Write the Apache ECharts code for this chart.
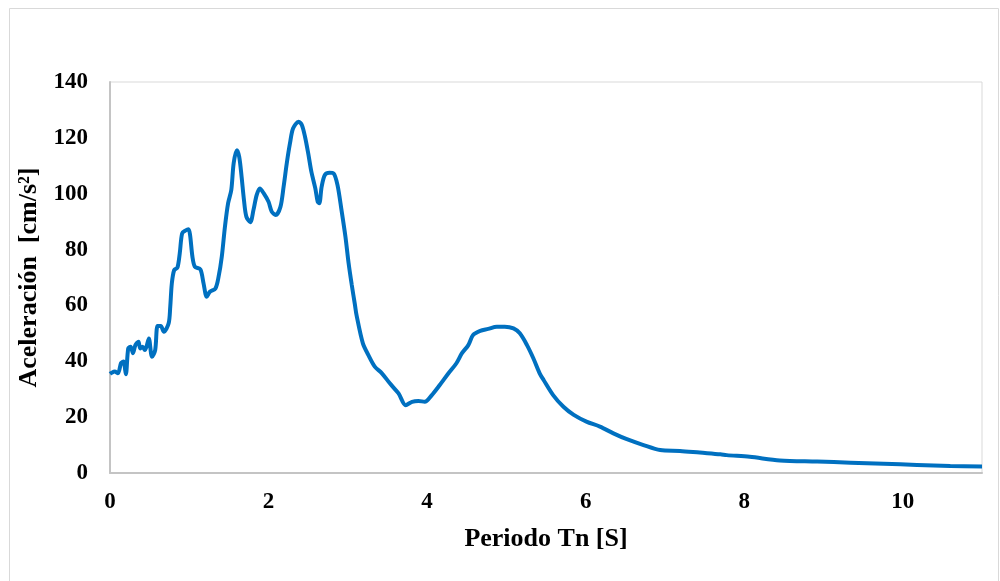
<!DOCTYPE html>
<html>
<head>
<meta charset="utf-8">
<title>Espectro de aceleración</title>
<script src="https://cdn.jsdelivr.net/npm/echarts@6/dist/echarts.min.js"></script>
<style>
  html, body { margin: 0; padding: 0; background: #ffffff; }
  #chart { width: 1000px; height: 581px; }
</style>
</head>
<body>
<div id="chart"></div>
<script>
// Periodo Tn [s]
var periods = [
  0.00, 0.01, 0.06, 0.10, 0.14, 0.17, 0.20, 0.23, 0.26, 0.29, 0.32, 0.36, 0.38, 0.41, 0.44, 0.46,
  0.49, 0.53, 0.57, 0.60, 0.64, 0.68, 0.74, 0.76, 0.78, 0.81, 0.85, 0.88, 0.91, 0.95, 0.99, 1.01,
  1.04, 1.07, 1.14, 1.18, 1.22, 1.26, 1.33, 1.37, 1.41, 1.45, 1.49, 1.53, 1.56, 1.60, 1.63, 1.66,
  1.69, 1.72, 1.77, 1.81, 1.85, 1.89, 1.94, 2.00, 2.04, 2.09, 2.15, 2.19, 2.23, 2.27, 2.31, 2.38,
  2.42, 2.46, 2.50, 2.54, 2.59, 2.62, 2.64, 2.67, 2.71, 2.77, 2.82, 2.87, 2.92, 2.97, 3.01, 3.05,
  3.09, 3.11, 3.19, 3.26, 3.34, 3.43, 3.53, 3.64, 3.73, 3.81, 3.89, 3.97, 4.06, 4.16, 4.27, 4.37,
  4.44, 4.52, 4.58, 4.67, 4.77, 4.88, 4.98, 5.09, 5.17, 5.26, 5.34, 5.42, 5.47, 5.59, 5.72, 5.85,
  6.01, 6.18, 6.35, 6.52, 6.73, 6.94, 7.19, 7.44, 7.70, 7.78, 8.07, 8.45, 8.92, 9.34, 9.76, 10.18,
  10.60, 11.00
];

// Aceleración espectral [cm/s²]
var accel = [
  35.5, 35.7, 36.3, 35.7, 39.4, 39.9, 35.4, 44.6, 45.2, 42.9, 45.8, 47.0, 44.6, 45.2, 44.0, 45.2,
  48.2, 41.6, 44.0, 52.6, 52.6, 50.6, 53.6, 59.5, 67.9, 72.7, 73.5, 78.7, 85.8, 86.8, 87.3, 85.2,
  77.4, 73.9, 72.9, 67.9, 63.1, 64.9, 66.1, 70.3, 77.4, 88.2, 96.6, 101.3, 110.9, 115.6, 113.2, 106.1,
  97.7, 91.8, 89.8, 94.2, 99.5, 101.9, 100.1, 97.1, 93.6, 92.4, 95.3, 102.5, 110.9, 118.0, 123.4, 125.8,
  124.6, 120.4, 114.5, 107.9, 101.9, 97.1, 96.6, 102.5, 106.7, 107.5, 107.3, 103.1, 94.2, 84.6, 75.1, 67.3,
  60.2, 56.5, 46.4, 42.2, 38.1, 35.7, 32.1, 28.5, 24.3, 25.5, 25.8, 25.5, 27.9, 31.5, 35.7, 39.3,
  42.9, 45.8, 49.4, 50.9, 51.6, 52.4, 52.4, 51.8, 50.0, 45.8, 41.1, 35.7, 33.3, 27.9, 23.7, 20.8,
  18.4, 16.6, 14.2, 12.1, 10.0, 8.2, 7.9, 7.3, 6.7, 6.4, 5.8, 4.5, 4.1, 3.7, 3.3, 2.9,
  2.5, 2.3
];

var points = periods.map(function (t, i) { return [t, accel[i]]; });

var chart = echarts.init(document.getElementById('chart'), null, { renderer: 'canvas' });

var serif = '"Liberation Serif", "Times New Roman", serif';

chart.setOption({
  backgroundColor: '#ffffff',
  animation: false,
  graphic: [{
    type: 'rect',
    shape: { x: 9.5, y: 8.5, width: 989, height: 600 },
    style: { fill: 'none', stroke: '#d9d9d9', lineWidth: 1 },
    silent: true,
    z: -10
  }],
  grid: {
    left: 110,
    top: 82,
    right: 18,
    bottom: 108,
    show: true,
    borderColor: '#d9d9d9',
    borderWidth: 1,
    backgroundColor: 'transparent'
  },
  xAxis: {
    type: 'value',
    min: 0,
    max: 11,
    interval: 2,
    name: 'Periodo Tn [S]',
    nameLocation: 'middle',
    nameGap: 53,
    nameTextStyle: { fontFamily: serif, fontWeight: 'bold', fontSize: 26, color: '#000' },
    axisLine: { show: true, lineStyle: { color: '#c4c4c4', width: 2 } },
    axisTick: { show: false },
    splitLine: { show: false },
    axisLabel: {
      showMaxLabel: false,
      margin: 18,
      fontFamily: serif, fontWeight: 'bold', fontSize: 23, color: '#000'
    }
  },
  yAxis: {
    type: 'value',
    min: 0,
    max: 140,
    interval: 20,
    name: 'Aceleración  [cm/s²]',
    nameLocation: 'middle',
    nameGap: 59,
    nameRotate: 90,
    nameTextStyle: { fontFamily: serif, fontWeight: 'bold', fontSize: 26, color: '#000' },
    axisLine: { show: true, lineStyle: { color: '#c4c4c4', width: 2 } },
    axisTick: { show: false },
    splitLine: { show: false },
    axisLabel: {
      margin: 22,
      fontFamily: serif, fontWeight: 'bold', fontSize: 23, color: '#000'
    }
  },
  series: [{
    type: 'line',
    data: points,
    showSymbol: false,
    smooth: 0.3,
    lineStyle: { color: '#0070C0', width: 4 },
    itemStyle: { color: '#0070C0' }
  }]
});
</script>
</body>
</html>
